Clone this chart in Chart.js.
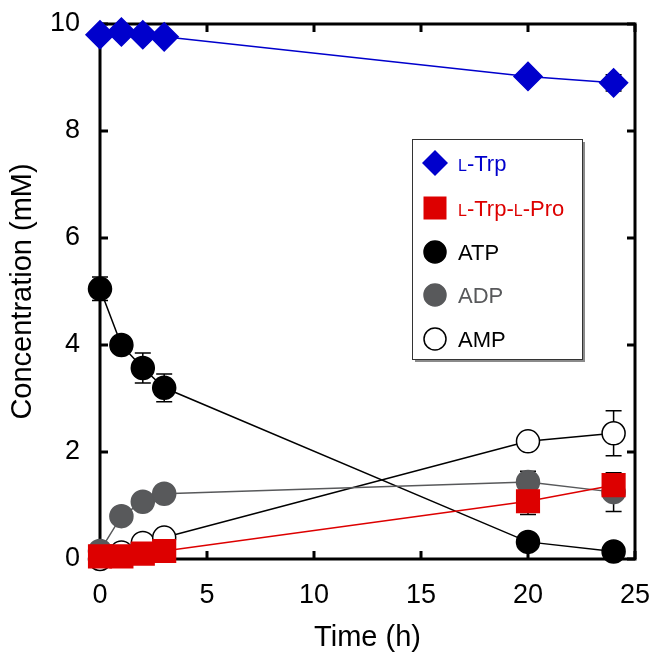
<!DOCTYPE html>
<html>
<head>
<meta charset="utf-8">
<script src="https://cdn.jsdelivr.net/npm/chart.js@4.4.0/dist/chart.umd.min.js"></script>
<style>
  html, body { margin: 0; padding: 0; background: #fff; }
</style>
</head>
<body>
<canvas id="myCanvas" width="654" height="654"></canvas>
<script>
// values
var times = [0, 1, 2, 3, 20, 24];
var trp = [9.8, 9.85, 9.8, 9.76, 9.02, 8.9];
var trpErr = [0, 0, 0, 0, 0, 0.15];
var trpPro = [0.05, 0.05, 0.1, 0.15, 1.08, 1.38];
var trpProErr = [0, 0, 0, 0, 0.25, 0.2];
var atp = [5.05, 4.0, 3.57, 3.2, 0.32, 0.14];
var atpErr = [0.22, 0, 0.28, 0.26, 0, 0];
var adp = [0.15, 0.8, 1.07, 1.22, 1.44, 1.25];
var adpErr = [0, 0, 0, 0, 0.2, 0.36];
var amp = [0.0, 0.12, 0.3, 0.4, 2.2, 2.35];
var ampErr = [0, 0, 0, 0, 0, 0.42];
var xTicks = [0, 5, 10, 15, 20, 25];
var yTicks = [0, 2, 4, 6, 8, 10];

var BLUE = "#0000cc", RED = "#dd0000", GREY = "#58595b";

function pts(vals) {
  return times.map(function (t, i) { return { x: t, y: vals[i] }; });
}

function series(label, vals, errs, color, style, radius, fill, order) {
  return {
    label: label,
    data: pts(vals),
    errors: errs,
    borderColor: color,
    borderWidth: 1.5,
    pointStyle: style,
    pointRadius: radius,
    pointHoverRadius: radius,
    pointBackgroundColor: fill,
    pointBorderColor: color,
    pointBorderWidth: 1.5,
    showLine: true,
    tension: 0,
    clip: false,
    order: order
  };
}

// frame, inside ticks and error bars
var framePlugin = {
  id: "frame",
  beforeDatasetsDraw: function (chart) {
    var ctx = chart.ctx, a = chart.chartArea;
    var xs = chart.scales.x, ys = chart.scales.y;
    ctx.save();
    ctx.strokeStyle = "#000";
    ctx.lineWidth = 3;
    ctx.strokeRect(a.left, a.top, a.right - a.left, a.bottom - a.top);
    var tl = 8;
    xTicks.forEach(function (v) {
      var px = xs.getPixelForValue(v);
      ctx.beginPath();
      ctx.moveTo(px, a.bottom); ctx.lineTo(px, a.bottom - tl);
      ctx.moveTo(px, a.top); ctx.lineTo(px, a.top + tl);
      ctx.stroke();
    });
    yTicks.forEach(function (v) {
      var py = ys.getPixelForValue(v);
      ctx.beginPath();
      ctx.moveTo(a.left, py); ctx.lineTo(a.left + tl, py);
      ctx.moveTo(a.right, py); ctx.lineTo(a.right - tl, py);
      ctx.stroke();
    });
    // error bars
    ctx.lineWidth = 1.5;
    chart.data.datasets.forEach(function (ds) {
      ds.data.forEach(function (p, i) {
        var e = ds.errors[i];
        if (!e) return;
        var px = xs.getPixelForValue(p.x);
        var y1 = ys.getPixelForValue(p.y + e), y2 = ys.getPixelForValue(p.y - e);
        ctx.beginPath();
        ctx.moveTo(px, y1); ctx.lineTo(px, y2);
        ctx.moveTo(px - 8, y1); ctx.lineTo(px + 8, y1);
        ctx.moveTo(px - 8, y2); ctx.lineTo(px + 8, y2);
        ctx.stroke();
      });
    });
    ctx.restore();
  }
};

// boxed legend with small-caps L
var legendItems = [
  { parts: [["L", 16], ["-Trp", 22]], color: BLUE, style: "diamond", fill: BLUE },
  { parts: [["L", 16], ["-Trp-", 22], ["L", 16], ["-Pro", 22]], color: RED, style: "square", fill: RED },
  { parts: [["ATP", 22]], color: "#000", style: "circle", fill: "#000" },
  { parts: [["ADP", 22]], color: GREY, style: "circle", fill: GREY },
  { parts: [["AMP", 22]], color: "#000", style: "circle", fill: "#fff" }
];

var legendPlugin = {
  id: "boxLegend",
  afterDraw: function (chart) {
    var ctx = chart.ctx;
    var bx = 412, by = 139, bw = 170, bh = 220;
    ctx.save();
    ctx.fillStyle = "#8a8a8a";
    ctx.fillRect(bx + 3, by + 3, bw, bh);
    ctx.fillStyle = "#fff";
    ctx.fillRect(bx, by, bw, bh);
    ctx.strokeStyle = "#333";
    ctx.lineWidth = 1;
    ctx.strokeRect(bx + 0.5, by + 0.5, bw, bh);
    var rows = [163, 208, 252, 295, 339];
    legendItems.forEach(function (it, k) {
      var cx = 435, cy = rows[k];
      ctx.fillStyle = it.fill;
      ctx.strokeStyle = it.color;
      ctx.lineWidth = 1.5;
      ctx.beginPath();
      if (it.style === "diamond") {
        ctx.moveTo(cx, cy - 13); ctx.lineTo(cx + 13, cy); ctx.lineTo(cx, cy + 13); ctx.lineTo(cx - 13, cy);
        ctx.closePath(); ctx.fill();
      } else if (it.style === "square") {
        ctx.rect(cx - 11.5, cy - 11.5, 23, 23); ctx.fill();
      } else {
        ctx.arc(cx, cy, 11, 0, Math.PI * 2); ctx.fill(); ctx.stroke();
      }
      var tx = 458;
      ctx.fillStyle = it.color;
      ctx.textBaseline = "alphabetic";
      it.parts.forEach(function (p) {
        ctx.font = p[1] + "px 'Liberation Sans', Arial, sans-serif";
        ctx.fillText(p[0], tx, cy + 8);
        tx += ctx.measureText(p[0]).width;
      });
    });
    ctx.restore();
  }
};

var ctx = document.getElementById("myCanvas").getContext("2d");
var chart = new Chart(ctx, {
  type: "scatter",
  data: {
    datasets: [
      series("L-Trp", trp, trpErr, BLUE, "rectRot", 14, BLUE, 4),
      series("L-Trp-L-Pro", trpPro, trpProErr, RED, "rect", 16, RED, 0),
      series("ATP", atp, atpErr, "#000", "circle", 11.5, "#000", 3),
      series("ADP", adp, adpErr, GREY, "circle", 11.5, GREY, 1),
      series("AMP", amp, ampErr, "#000", "circle", 11.5, "#fff", 2)
    ]
  },
  options: {
    responsive: false,
    animation: false,
    layout: { autoPadding: false, padding: { top: 24, right: 19, left: 0, bottom: 0 } },
    plugins: { legend: { display: false }, tooltip: { enabled: false } },
    scales: {
      x: {
        type: "linear",
        min: 0, max: 25,
        afterBuildTicks: function (s) { s.ticks = xTicks.map(function (v) { return { value: v }; }); },
        afterFit: function (s) { s.height = 95; s.paddingLeft = 0; s.paddingRight = 0; },
        grid: { display: false, drawTicks: false },
        border: { display: false },
        ticks: { color: "#000", padding: 20, font: { family: "'Liberation Sans', Arial, sans-serif", size: 27 } },
        title: { display: true, text: "Time (h)", color: "#000", padding: { top: 4, bottom: -1 }, font: { family: "'Liberation Sans', Arial, sans-serif", size: 29 } }
      },
      y: {
        type: "linear",
        min: 0, max: 10,
        afterBuildTicks: function (s) { s.ticks = yTicks.map(function (v) { return { value: v }; }); },
        afterFit: function (s) { s.width = 100; s.paddingTop = 0; s.paddingBottom = 0; },
        grid: { display: false, drawTicks: false },
        border: { display: false },
        ticks: { color: "#000", padding: 20, font: { family: "'Liberation Sans', Arial, sans-serif", size: 27 } },
        title: { display: true, text: "Concentration (mM)", color: "#000", padding: { top: 6, bottom: 0 }, font: { family: "'Liberation Sans', Arial, sans-serif", size: 29 } }
      }
    }
  },
  plugins: [framePlugin, legendPlugin]
});
</script>
</body>
</html>
